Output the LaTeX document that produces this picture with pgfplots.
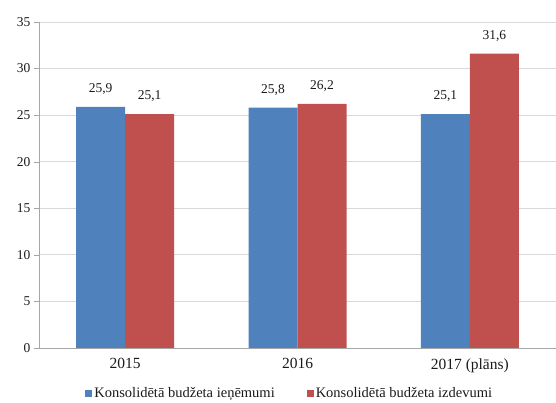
\documentclass[border=0pt]{standalone}
\usepackage{fontspec}
\setmainfont{Liberation Serif}
\usepackage{pgfplots}
\pgfplotsset{compat=1.18}
\definecolor{serblue}{HTML}{4F81BD}
\definecolor{serred}{HTML}{C0504D}
\definecolor{gridgray}{HTML}{D9D9D9}
\definecolor{axgray}{HTML}{A6A6A6}
\definecolor{txt}{HTML}{1A1A1A}

\begin{document}
\begin{tikzpicture}
\begin{axis}[
  scale only axis,
  width=517pt, height=326pt,
  ybar=0pt, bar width=49pt,
  xmin=-0.5, xmax=2.5,
  ymin=0, ymax=35,
  ytick={0,5,...,35},
  xtick={0,1,2},
  xticklabels={2015,2016,2017 (plāns)},
  extra x ticks={-0.5,0.5,1.5,2.5},
  extra x tick labels={},
  extra x tick style={major tick length=5pt, tick style={axgray}, grid=none},
  major x tick style={draw=none},
  ytick style={axgray},
  major tick length=5pt,
  tick align=outside,
  axis x line*=bottom, axis y line*=left,
  axis line style={axgray, line width=0.8pt},
  ymajorgrids, grid style={gridgray, line width=0.8pt},
  tick label style={font=\fontsize{13.5}{15}\selectfont, text=txt},
  xticklabel style={font=\fontsize{15.5}{17}\selectfont, text=txt, yshift=-2pt},
  /pgf/number format/assume math mode=true,
  /pgf/number format/use comma,
  nodes near coords,
  nodes near coords style={font=\fontsize{13.5}{15}\selectfont, text=txt, yshift=9pt,
    /pgf/number format/fixed, /pgf/number format/precision=1,
    /pgf/number format/fixed zerofill, /pgf/number format/use comma},
  legend columns=2,
  legend style={at={(0.485,-0.14)}, anchor=center, draw=none,
    font=\fontsize{14.5}{16}\selectfont, text=txt,
    /tikz/every even column/.append style={column sep=30pt}},
  legend image code/.code={\fill[#1] (0pt,-3.5pt) rectangle (7pt,3.5pt);},
  clip=false,
]
\addplot[fill=serblue, draw=none] coordinates {(0,25.9) (1,25.8) (2,25.1)};
\addlegendentry{Konsolidētā budžeta ieņēmumi}
\addplot[fill=serred, draw=none] coordinates {(0,25.1) (1,26.2) (2,31.6)};
\addlegendentry{Konsolidētā budžeta izdevumi}
\end{axis}
\pgfresetboundingbox
\path (-39pt,-55pt) rectangle (517pt,348pt);
\end{tikzpicture}
\end{document}
